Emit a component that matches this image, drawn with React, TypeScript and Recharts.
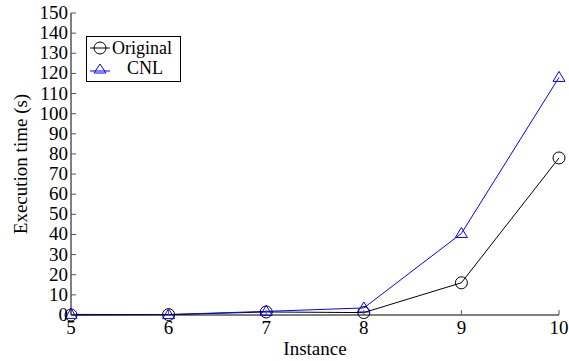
import { LineChart, Line, XAxis, YAxis, Label } from "recharts";

const instances = [5, 6, 7, 8, 9, 10];
const originalTimes = [0, 0.2, 1.5, 1.2, 16, 78];
const cnlTimes = [0.3, 0.2, 1.8, 3.5, 40.5, 118];
const yTicks = [0, 10, 20, 30, 40, 50, 60, 70, 80, 90, 100, 110, 120, 130, 140, 150];

const data = instances.map((inst, i) => ({
  inst,
  Original: originalTimes[i],
  CNL: cnlTimes[i],
}));

const FONT = "'Liberation Serif', 'Times New Roman', serif";
const TICK_LEN = 5;
const TICK_COLOR = "#555";

const LeftTick = (props: any) => {
  const { x, y, payload } = props;
  const ax = x + 3;
  return (
    <g>
      <line x1={ax} x2={ax + TICK_LEN} y1={y} y2={y} stroke={TICK_COLOR} />
      <text x={x} y={y} dy={6} textAnchor="end" fontSize={19} fontFamily={FONT} fill="#000">
        {payload.value}
      </text>
    </g>
  );
};

const RightTick = (props: any) => {
  const { x, y } = props;
  const ax = x - 3;
  return <line x1={ax} x2={ax - TICK_LEN} y1={y} y2={y} stroke={TICK_COLOR} />;
};

const BottomTick = (props: any) => {
  const { x, y, payload } = props;
  const ay = y - 3;
  return (
    <g>
      <line x1={x} x2={x} y1={ay} y2={ay - TICK_LEN} stroke={TICK_COLOR} />
      <text x={x} y={ay + 19} textAnchor="middle" fontSize={19} fontFamily={FONT} fill="#000">
        {payload.value}
      </text>
    </g>
  );
};

const TopTick = (props: any) => {
  const { x, y } = props;
  const ay = y + 3;
  return <line x1={x} x2={x} y1={ay} y2={ay + TICK_LEN} stroke={TICK_COLOR} />;
};

const CircleDot = (props: any) => {
  const { cx, cy } = props;
  if (cx == null || cy == null) return null;
  return <circle cx={cx} cy={cy} r={6} fill="none" stroke="#000" strokeWidth={1} />;
};

const TriangleDot = (props: any) => {
  const { cx, cy } = props;
  if (cx == null || cy == null) return null;
  const h = 10;
  const w = 12;
  return (
    <polygon
      points={`${cx},${cy - h * 0.6} ${cx - w / 2},${cy + h * 0.4} ${cx + w / 2},${cy + h * 0.4}`}
      fill="none"
      stroke="#0000ff"
      strokeWidth={1}
    />
  );
};

const LegendBox = () => (
  <div
    style={{
      position: "absolute",
      left: 86,
      top: 36,
      border: "1px solid #000",
      background: "#fff",
      width: 93,
      height: 42,
      fontFamily: FONT,
      fontSize: 18,
      lineHeight: "20px",
      padding: "1px 0",
      boxSizing: "content-box",
    }}
  >
    <div style={{ display: "flex", alignItems: "center", height: 20 }}>
      <svg width={22} height={20} style={{ marginLeft: 2 }}>
        <line x1={1} x2={21} y1={10} y2={10} stroke="#000" />
        <circle cx={11} cy={10} r={6} fill="none" stroke="#000" />
      </svg>
      <span style={{ marginLeft: 1 }}>Original</span>
    </div>
    <div style={{ display: "flex", alignItems: "center", height: 20 }}>
      <svg width={22} height={20} style={{ marginLeft: 2 }}>
        <line x1={1} x2={21} y1={13} y2={13} stroke="#0000ff" />
        <polygon points="11,6 5,15 17,15" fill="none" stroke="#0000ff" />
      </svg>
      <span style={{ marginLeft: 16 }}>CNL</span>
    </div>
  </div>
);

export default function App() {
  return (
    <div style={{ position: "fixed", left: 0, top: 0, width: 569, height: 361, background: "#fff" }}>
      <LineChart
        width={569}
        height={361}
        data={data}
        margin={{ top: 13, right: 10, bottom: 0, left: 0 }}
      >
        <XAxis
          xAxisId="bottom"
          dataKey="inst"
          type="number"
          domain={[5, 10]}
          ticks={instances}
          height={46}
          tickSize={0}
          tickMargin={3}
          axisLine={{ stroke: "#000" }}
          tick={<BottomTick />}
        >
          <Label value="Instance" position="insideBottom" offset={6} fontSize={19} fontFamily={FONT} fill="#000" />
        </XAxis>
        <XAxis
          xAxisId="top"
          orientation="top"
          dataKey="inst"
          type="number"
          domain={[5, 10]}
          ticks={instances.slice(1, -1)}
          height={0}
          tickSize={0}
          tickMargin={3}
          axisLine={{ stroke: "#000" }}
          tick={<TopTick />}
        />
        <YAxis
          yAxisId="left"
          domain={[0, 150]}
          ticks={yTicks}
          width={71}
          tickSize={0}
          tickMargin={3}
          interval={0}
          axisLine={{ stroke: "#000" }}
          tick={<LeftTick />}
        >
          <Label
            value="Execution time (s)"
            angle={-90}
            position="insideLeft"
            offset={20}
            style={{ textAnchor: "middle" }}
            fontSize={19}
            fontFamily={FONT}
            fill="#000"
          />
        </YAxis>
        <YAxis
          yAxisId="right"
          orientation="right"
          domain={[0, 150]}
          ticks={yTicks.slice(1, -1)}
          width={0}
          tickSize={0}
          tickMargin={3}
          interval={0}
          axisLine={{ stroke: "#000" }}
          tick={<RightTick />}
        />
        <Line
          xAxisId="bottom"
          yAxisId="left"
          dataKey="Original"
          stroke="#000"
          strokeWidth={1}
          dot={<CircleDot />}
          activeDot={false}
          isAnimationActive={false}
        />
        <Line
          xAxisId="bottom"
          yAxisId="left"
          dataKey="CNL"
          stroke="#0000ff"
          strokeWidth={1}
          dot={<TriangleDot />}
          activeDot={false}
          isAnimationActive={false}
        />
      </LineChart>
      <LegendBox />
    </div>
  );
}
